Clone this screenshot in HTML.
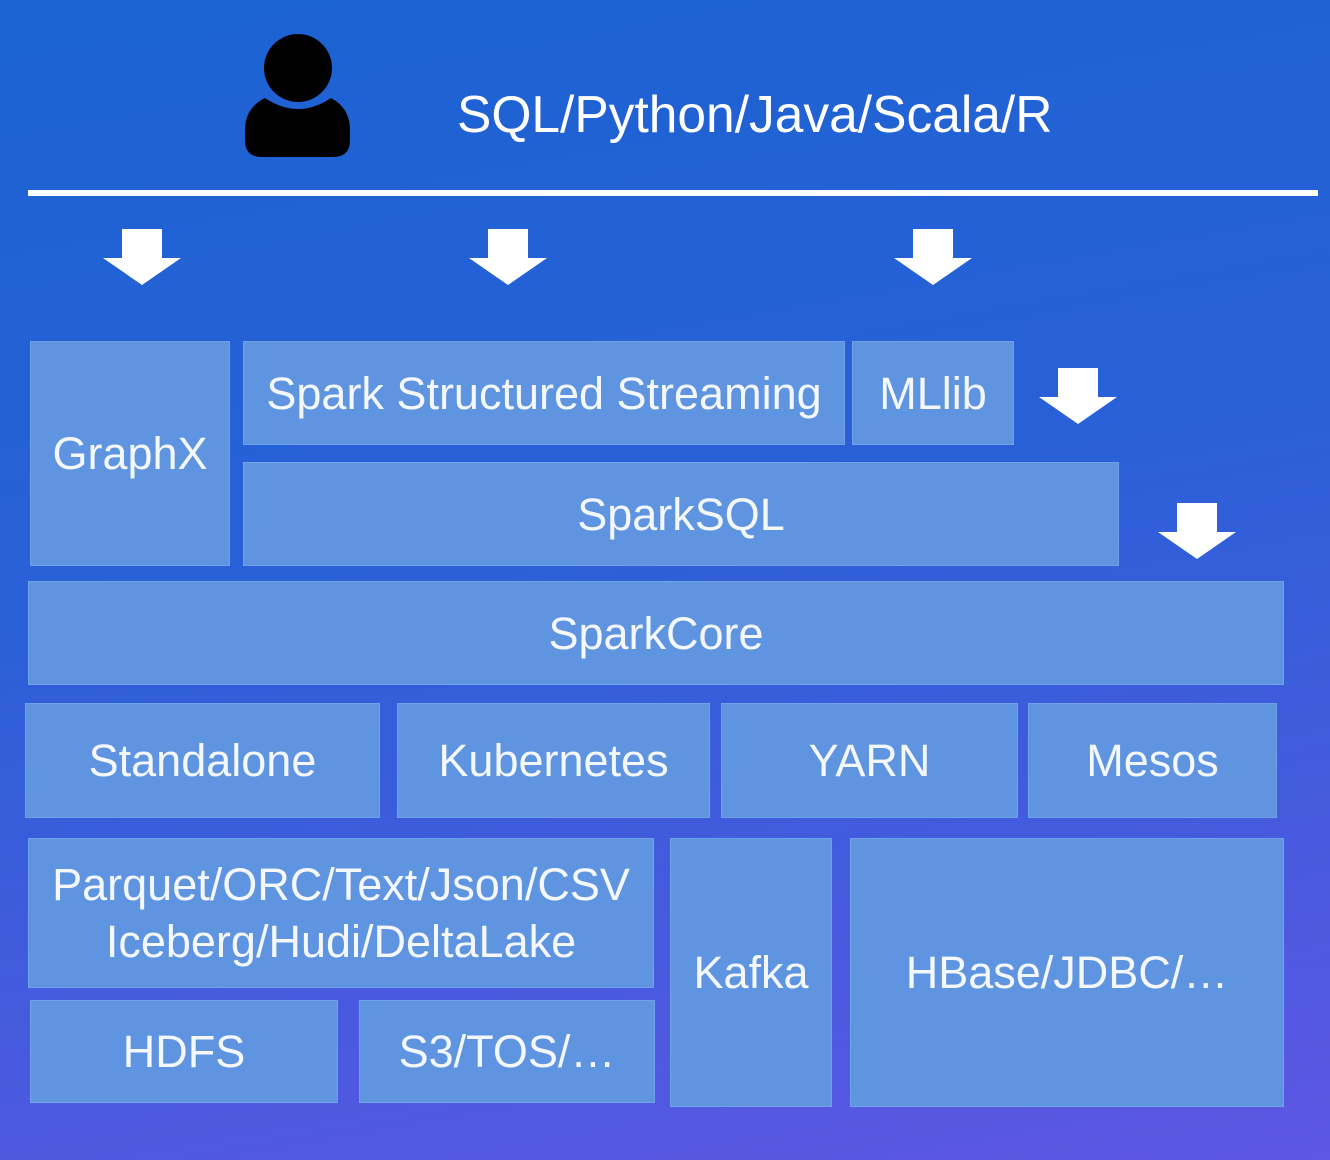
<!DOCTYPE html>
<html><head><meta charset="utf-8"><style>
body{margin:0;width:1330px;height:1160px;overflow:hidden;background:linear-gradient(170deg,#1a63d2 0%,#2a60d8 45%,#5e56e4 100%);font-family:"Liberation Sans",sans-serif;position:relative}
.b{position:absolute;background:#5f95e0;border:1px solid #6fa2e6;box-sizing:border-box;color:#f4f7fc;font-size:45px;display:flex;align-items:center;justify-content:center;text-align:center;line-height:57px;white-space:nowrap}
.t{position:absolute;color:#fff;font-size:51.5px;left:457px;top:84px}
svg{position:absolute;left:0;top:0}
</style></head><body>
<svg width="1330" height="1160">
<circle cx="298" cy="68" r="34" fill="#000"/>
<path d="M265 98 Q298 120 331 98 Q350 108 350 130 L350 140 Q350 157 333 157 L262 157 Q245 157 245 140 L245 130 Q245 108 265 98Z" fill="#000"/>
<rect x="28" y="190" width="1290" height="6" fill="#fff"/>
<g fill="#fff">
<path d="M122 229h40v29h19l-39 27-39-27h19z"/>
<path d="M488 229h40v29h19l-39 27-39-27h19z"/>
<path d="M913 229h40v29h19l-39 27-39-27h19z"/>
<path d="M1058 368h40v29h19l-39 27-39-27h19z"/>
<path d="M1177 503h40v29h19l-39 27-39-27h19z"/>
</g>
</svg>
<div class="t">SQL/Python/Java/Scala/R</div>
<div class="b" style="left:30px;top:341px;width:200px;height:225px">GraphX</div>
<div class="b" style="left:243px;top:341px;width:602px;height:104px">Spark Structured Streaming</div>
<div class="b" style="left:852px;top:341px;width:162px;height:104px">MLlib</div>
<div class="b" style="left:243px;top:462px;width:876px;height:104px">SparkSQL</div>
<div class="b" style="left:28px;top:581px;width:1256px;height:104px">SparkCore</div>
<div class="b" style="left:25px;top:703px;width:355px;height:115px">Standalone</div>
<div class="b" style="left:397px;top:703px;width:313px;height:115px">Kubernetes</div>
<div class="b" style="left:721px;top:703px;width:297px;height:115px">YARN</div>
<div class="b" style="left:1028px;top:703px;width:249px;height:115px">Mesos</div>
<div class="b" style="left:28px;top:838px;width:626px;height:150px">Parquet/ORC/Text/Json/CSV<br>Iceberg/Hudi/DeltaLake</div>
<div class="b" style="left:30px;top:1000px;width:308px;height:103px">HDFS</div>
<div class="b" style="left:359px;top:1000px;width:296px;height:103px">S3/TOS/…</div>
<div class="b" style="left:670px;top:838px;width:162px;height:269px">Kafka</div>
<div class="b" style="left:850px;top:838px;width:434px;height:269px">HBase/JDBC/…</div>
</body></html>
